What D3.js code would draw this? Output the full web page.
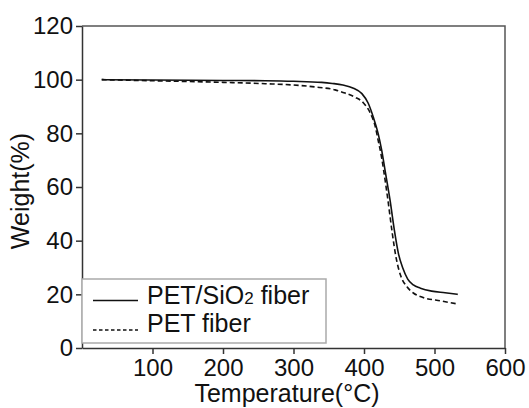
<!DOCTYPE html>
<html>
<head>
<meta charset="utf-8">
<script src="https://cdn.jsdelivr.net/npm/d3@7"></script>
<style>
  html, body { margin: 0; padding: 0; background: #fff; }
  svg { display: block; font-family: "Liberation Sans", Arial, sans-serif; }
</style>
</head>
<body>
<svg id="chart" width="529" height="408"></svg>
<script>
// PET/SiO2 fiber (solid)
const tempSiO2 = [28, 100, 200, 260, 300, 340, 355, 370, 385, 397, 406, 413, 420, 425, 430, 437, 443, 449, 455, 462, 470, 480, 496, 515, 533];
const weightSiO2 = [100, 99.9, 99.7, 99.6, 99.4, 99.0, 98.6, 98.0, 96.8, 94.8, 91.2, 86.2, 80, 73.8, 66, 55, 44, 35, 29.8, 25.7, 23.5, 22.3, 21.2, 20.6, 20.0];

// PET fiber (dashed)
const tempPET = [28, 100, 200, 260, 300, 330, 359, 373, 387, 399, 409, 416, 420, 425, 428, 434, 440, 446, 452, 461, 470, 482, 510, 533];
const weightPET = [100, 99.6, 99.0, 98.5, 98.0, 97.3, 96.2, 95.0, 93.5, 91.4, 87.5, 82.5, 77.5, 71, 66, 55, 43, 33, 27, 22.8, 20.5, 19.0, 17.5, 16.4];

const xTicks = [100, 200, 300, 400, 500, 600];
const yTicks = [0, 20, 40, 60, 80, 100, 120];

const svg = d3.select("#chart");
const plot = { left: 82, right: 505, top: 26, bottom: 348 };
const tickFont = 24;
const labelFont = 25;

const x = d3.scaleLinear().domain([0, 600]).range([plot.left, plot.right]);
const y = d3.scaleLinear().domain([0, 120]).range([plot.bottom, plot.top]);

// frame (top and right)
svg.append("path")
  .attr("d", `M${plot.left},${plot.top}H${plot.right}V${plot.bottom}`)
  .attr("fill", "none")
  .attr("stroke", "#555")
  .attr("stroke-width", 1.5);

// axes
const xAxis = svg.append("g")
  .attr("transform", `translate(0,${plot.bottom})`)
  .call(d3.axisBottom(x).tickValues(xTicks).tickSize(6).tickSizeOuter(0).tickPadding(5));
const yAxis = svg.append("g")
  .attr("transform", `translate(${plot.left},0)`)
  .call(d3.axisLeft(y).tickValues(yTicks).tickSize(6).tickSizeOuter(0).tickPadding(3));

[xAxis, yAxis].forEach((g) => {
  g.select(".domain").attr("stroke", "#333").attr("stroke-width", 1.5);
  g.selectAll(".tick line").attr("stroke", "#333").attr("stroke-width", 1.5);
  g.selectAll(".tick text")
    .attr("font-size", tickFont)
    .attr("font-family", "Liberation Sans, Arial, sans-serif")
    .attr("fill", "#111");
});

// curves
const line = d3.line()
  .x((d) => x(d[0]))
  .y((d) => y(d[1]))
  .curve(d3.curveMonotoneX);

svg.append("path")
  .datum(d3.zip(tempPET, weightPET))
  .attr("d", line)
  .attr("fill", "none")
  .attr("stroke", "#111")
  .attr("stroke-width", 1.6)
  .attr("stroke-dasharray", "5,3");

svg.append("path")
  .datum(d3.zip(tempSiO2, weightSiO2))
  .attr("d", line)
  .attr("fill", "none")
  .attr("stroke", "#111")
  .attr("stroke-width", 1.6);

// axis titles
svg.append("text")
  .attr("x", 287)
  .attr("y", 402)
  .attr("text-anchor", "middle")
  .attr("font-size", labelFont)
  .attr("fill", "#111")
  .text("Temperature(\u00B0C)");

svg.append("text")
  .attr("transform", "translate(29,191) rotate(-90)")
  .attr("text-anchor", "middle")
  .attr("font-size", labelFont)
  .attr("fill", "#111")
  .text("Weight(%)");

// legend
const legend = svg.append("g");
legend.append("rect")
  .attr("x", plot.left)
  .attr("y", 279)
  .attr("width", 244)
  .attr("height", 64)
  .attr("fill", "#fff")
  .attr("stroke", "#aaa")
  .attr("stroke-width", 1.5);

legend.append("line")
  .attr("x1", 93).attr("x2", 138)
  .attr("y1", 300.5).attr("y2", 300.5)
  .attr("stroke", "#111").attr("stroke-width", 1.4);
legend.append("line")
  .attr("x1", 93).attr("x2", 138)
  .attr("y1", 330).attr("y2", 330)
  .attr("stroke", "#111").attr("stroke-width", 1.4)
  .attr("stroke-dasharray", "3.5,2.5");

const t1 = legend.append("text")
  .attr("x", 147).attr("y", 304)
  .attr("font-size", labelFont)
  .attr("fill", "#111");
t1.append("tspan").text("PET/SiO");
t1.append("tspan").attr("font-size", 17).text("2");
t1.append("tspan").text(" fiber");

legend.append("text")
  .attr("x", 147).attr("y", 332)
  .attr("font-size", labelFont)
  .attr("fill", "#111")
  .text("PET fiber");
</script>
</body>
</html>
